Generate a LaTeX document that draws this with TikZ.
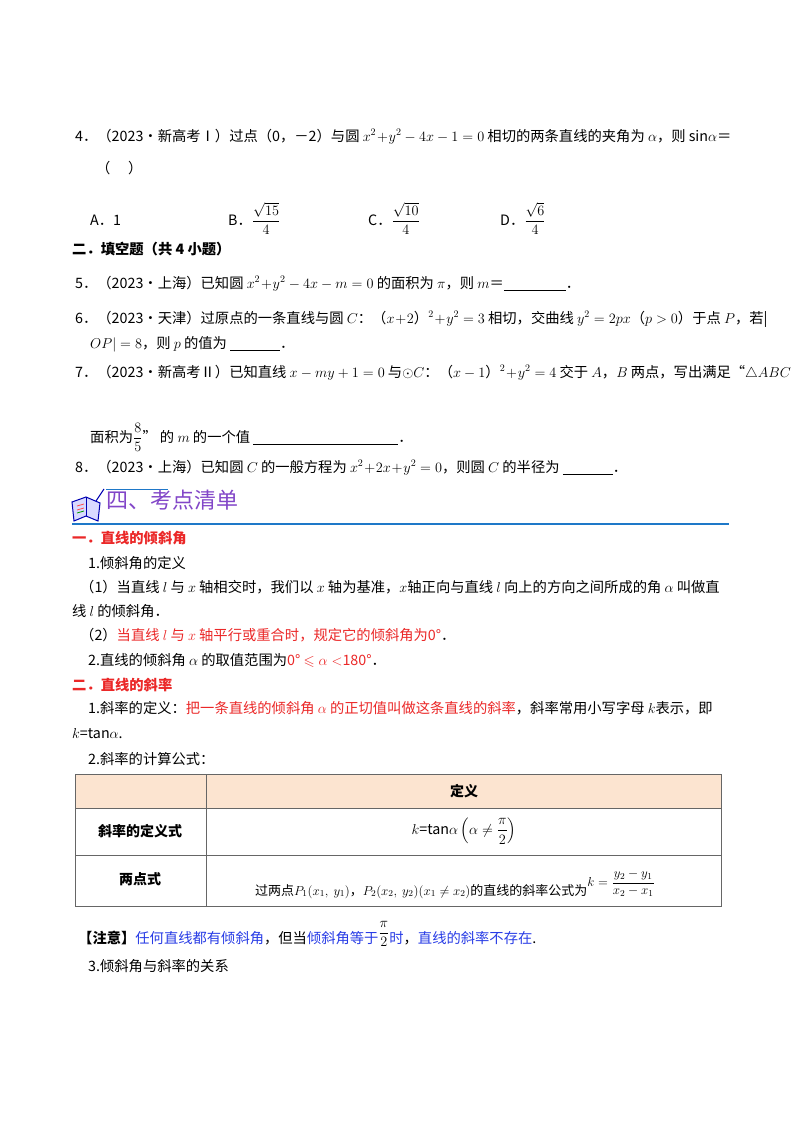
\RequirePackage{fix-cm}
\documentclass[tikz,border=0pt]{standalone}
\usepackage{amsmath,amssymb}
\usepackage{fontspec}
\setmainfont{Noto Sans CJK SC}
\definecolor{rd}{RGB}{235,40,40}
\definecolor{bl}{RGB}{40,60,230}
\definecolor{pu}{RGB}{130,70,200}
\definecolor{hd}{RGB}{252,228,208}
\definecolor{ln}{RGB}{30,120,200}
\begin{document}
\begin{tikzpicture}[x=1pt,y=-1pt,
  t/.style={anchor=base west,inner sep=0pt,font=\fontsize{14.3}{16}\selectfont},
  b/.style={t,font=\fontsize{14.3}{16}\selectfont\bfseries},
  c/.style={anchor=center,inner sep=0pt,font=\fontsize{14.3}{16}\selectfont}]
\useasboundingbox (0,0) rectangle (800,1132);
\fill[white] (0,0) rectangle (800,1132);
\node[t] (q4) at (75,141) {4．（2023•新高考Ⅰ）过点（0，－2）与圆 $x^2\!+\!y^2-4x-1=0$ 相切的两条直线的夹角为 $\alpha$，则 sin$\alpha$＝};
\node[t] (q4b) at (96,173) {（\quad\ ）};
\node[t] (oa) at (90,225) {A．1};
\node[t] (ob) at (228,225) {B．$\dfrac{\sqrt{15}}{4}$};
\node[t] (oc) at (368,225) {C．$\dfrac{\sqrt{10}}{4}$};
\node[t] (od) at (500,225) {D．$\dfrac{\sqrt{6}}{4}$};
\node[b] (s2) at (72,254) {二．填空题（共 4 小题）};
\node[t] (q5) at (75,288) {5．（2023•上海）已知圆 $x^2\!+\!y^2-4x-m=0$ 的面积为 $\pi$，则 $m$＝\underline{\hspace{62pt}}．};
\node[t] (q6) at (75,323) {6．（2023•天津）过原点的一条直线与圆 $C$：（$x\!+\!2$）$^2\!+\!y^2=3$ 相切，交曲线 $y^2=2px$（$p>0$）于点 $P$，若|};
\node[t] (q6b) at (90,348) {$OP|=8$，则 $p$ 的值为 \underline{\hspace{50pt}}．};
\node[t] (q7) at (75,377) {7．（2023•新高考Ⅱ）已知直线 $x-my+1=0$ 与$\odot C$：（$x-1$）$^2\!+\!y^2=4$ 交于 $A$，$B$ 两点，写出满足“$\triangle ABC$};
\node[t] (q7b) at (90,442) {面积为$\dfrac{8}{5}$” 的 $m$ 的一个值 \underline{\hspace{145pt}}．};
\node[t] (q8) at (75,472) {8．（2023•上海）已知圆 $C$ 的一般方程为 $x^2\!+\!2x\!+\!y^2=0$，则圆 $C$ 的半径为 \underline{\hspace{50pt}}．};
% book icon
\fill[blue!15,draw=blue!70!black,line width=1pt] (72,502) -- (86,497) -- (100,503) -- (98,521) -- (86,516) -- (74,521) -- cycle;
\draw[blue!70!black,line width=1pt] (86,497) -- (86,516);
\draw[red!70,line width=0.8pt] (77,506) -- (84,504) (77,510) -- (84,508);
\draw[green!60!black,line width=0.8pt] (77,513) -- (84,511);
\draw[blue!70!black,line width=1pt] (96,501) -- (104,489);
\draw[ln,line width=1pt] (106,489) -- (168,489);
\node[anchor=base west,inner sep=0pt,text=pu,font=\fontsize{22}{24}\selectfont] (h4) at (106,508) {四、考点清单};
\draw[ln,line width=1.6pt] (72,524) -- (729,524);
\node[b,text=rd] (k1) at (72,543) {一．直线的倾斜角};
\node[t] (k1a) at (88,568) {1.倾斜角的定义};
\node[t] (k1b) at (80,592) {（1）当直线 $l$ 与 $x$ 轴相交时，我们以 $x$ 轴为基准，$x$轴正向与直线 $l$ 向上的方向之间所成的角 $\alpha$ 叫做直};
\node[t] (k1c) at (72,616) {线 $l$ 的倾斜角．};
\node[t] (k1d) at (80,640) {（2）\textcolor{rd}{当直线 $l$ 与 $x$ 轴平行或重合时，规定它的倾斜角为0°}．};
\node[t] (k1e) at (88,665) {2.直线的倾斜角 $\alpha$ 的取值范围为\textcolor{rd}{0° $\leqslant\alpha<$180°}．};
\node[b,text=rd] (k2) at (72,690) {二．直线的斜率};
\node[t] (k2a) at (88,713) {1.斜率的定义：\textcolor{rd}{把一条直线的倾斜角 $\alpha$ 的正切值叫做这条直线的斜率}，斜率常用小写字母 $k$表示，即};
\node[t] (k2b) at (72,738) {$k$=tan$\alpha$.};
\node[t] (k2c) at (88,764) {2.斜率的计算公式：};
\fill[hd] (75,774) rectangle (721,808);
\draw[gray!80!black,line width=0.8pt] (75,774) rectangle (721,906) (75,808) -- (721,808) (75,855) -- (721,855) (206,774) -- (206,906);
\node[c,font=\fontsize{14}{16}\selectfont\bfseries] (th) at (464,791) {定义};
\node[c,font=\fontsize{14}{16}\selectfont\bfseries] (r1) at (140,831) {斜率的定义式};
\node[c] (r1v) at (464,831) {$k$=tan$\alpha\left(\alpha\neq\dfrac{\pi}{2}\right)$};
\node[c,font=\fontsize{14}{16}\selectfont\bfseries] (r2) at (140,879) {两点式};
\node[t] (r2v) at (255,895) {\fontsize{13}{15}\selectfont 过两点$P_1(x_1,\ y_1)$，$P_2(x_2,\ y_2)(x_1\neq x_2)$的直线的斜率公式为\raisebox{9pt}{$k=\dfrac{y_2-y_1}{x_2-x_1}$}};
\node[t] (nt) at (78,943) {\textbf{【注意】}\textcolor{bl}{任何直线都有倾斜角}，但当\textcolor{bl}{倾斜角等于}\raisebox{6pt}{$\dfrac{\pi}{2}$}\textcolor{bl}{时}，\textcolor{bl}{直线的斜率不存在}.};
\node[t] (k3) at (88,971) {3.倾斜角与斜率的关系};
\end{tikzpicture}
\end{document}
